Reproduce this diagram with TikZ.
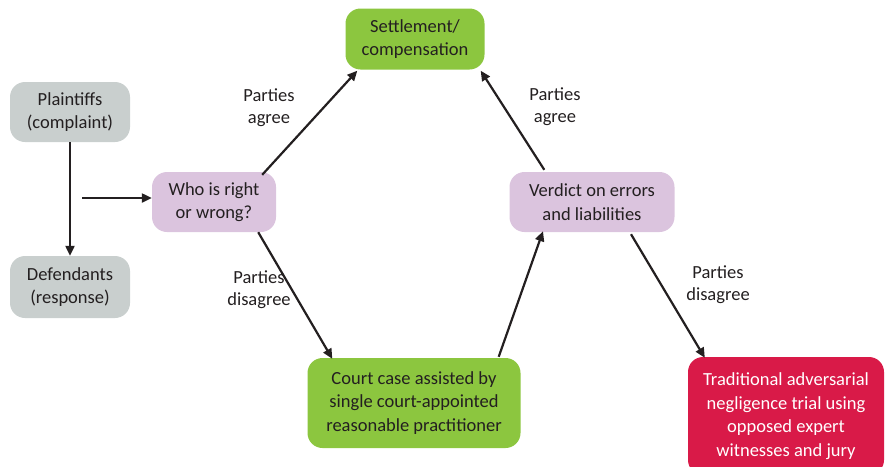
\documentclass[tikz,border=0pt]{standalone}
\usepackage{fontspec}
\setmainfont{Carlito}
\usetikzlibrary{arrows.meta}
\definecolor{boxgrey}{RGB}{201,207,206}
\definecolor{boxlilac}{RGB}{219,196,222}
\definecolor{boxgreen}{RGB}{140,198,63}
\definecolor{boxred}{RGB}{217,26,72}
\definecolor{inkgrey}{RGB}{35,31,32}
\begin{document}
\begin{tikzpicture}[x=1pt,y=-1pt,
  stepbox/.style={rectangle,rounded corners=15pt,draw=none,align=center,text=inkgrey,font=\fontsize{18.5}{23.5}\selectfont,inner sep=0pt},
  flow/.style={-{Triangle[length=10pt,width=9pt]},line width=2.2pt,draw=inkgrey},
  tag/.style={align=center,text=inkgrey,font=\fontsize{18.5}{22}\selectfont}]
\useasboundingbox (0,0) rectangle (886,466);
\begin{scope}
\clip (0,0) rectangle (886,466);
\node[stepbox,fill=boxgrey,minimum width=120pt,minimum height=60pt] (plaintiffs) at (70,112) {Plaintiffs\\(complaint)};
\node[stepbox,fill=boxgrey,minimum width=120pt,minimum height=62pt] (defendants) at (70,287) {Defendants\\(response)};
\node[stepbox,fill=boxlilac,minimum width=124pt,minimum height=60pt] (who) at (214,202) {Who is right\\or wrong?};
\node[stepbox,fill=boxgreen,minimum width=139pt,minimum height=61pt] (settle) at (415,39) {Settlement/\\compensation};
\node[stepbox,fill=boxlilac,minimum width=165pt,minimum height=60pt] (verdict) at (592,202) {Verdict on errors\\and liabilities};
\node[stepbox,fill=boxgreen,minimum width=213pt,minimum height=90pt] (court) at (414,403) {Court case assisted by\\single court-appointed\\reasonable practitioner};
\node[stepbox,fill=boxred,text=white,minimum width=196pt,minimum height=118pt] (trial) at (786,416) {Traditional adversarial\\negligence trial using\\opposed expert\\witnesses and jury};
\end{scope}
\coordinate (feed) at (82,198);
% connectors
\draw[flow] (plaintiffs.south) -- (defendants.north);
\draw[flow] (feed) -- (who.west |- feed);
\draw[flow] (who.north east) ++(-14,3) -- ([xshift=12pt,yshift=-1pt]settle.south west);
\draw[flow] (who.south east) ++(-18,0) -- ([xshift=25pt,yshift=-1pt]court.north west);
\draw[flow] (court.north east) ++(-22,-1) -- ([xshift=-49pt,yshift=1pt]verdict.south);
\draw[flow] (verdict.north west) ++(35,-2) -- ([xshift=-4pt,yshift=-1pt]settle.south east);
\draw[flow] (verdict.south) ++(39,2) -- ([xshift=17pt,yshift=-1pt]trial.north west);
% labels
\node[tag] (agreeL) at (269,108) {Parties\\agree};
\node[tag] (agreeR) at (555,107) {Parties\\agree};
\node[tag] (disagreeL) at (259,290) {Parties\\disagree};
\node[tag] (disagreeR) at (718,285) {Parties\\disagree};
\end{tikzpicture}
\end{document}
